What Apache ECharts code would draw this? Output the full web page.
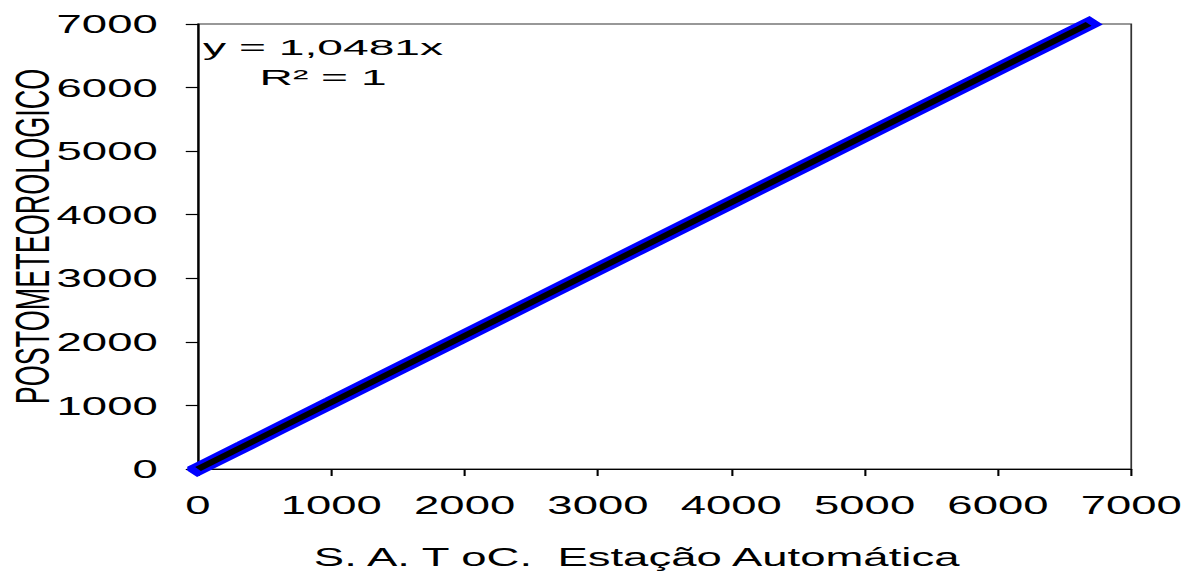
<!DOCTYPE html>
<html>
<head>
<meta charset="utf-8">
<style>
  html, body { margin: 0; padding: 0; background: #fff; overflow: hidden; }
  /* the chart is laid out narrow and stretched horizontally */
  #wrap { width: 1189px; height: 571px; overflow: hidden; }
  #chart { width: 679.43px; height: 571px; transform: scaleX(1.75); transform-origin: 0 0; }
</style>
<script src="https://cdn.jsdelivr.net/npm/echarts@6/dist/echarts.min.js"></script>
</head>
<body>
<div id="wrap"><div id="chart"></div></div>
<script>
// Accumulated degree-days: automatic station (x) vs. meteorological post (y)
const estacaoAutomatica = [0, 120, 340, 600, 1000, 1450, 1950, 2600, 3300, 3950, 4550, 5200, 5850, 6400, 6680];
const postoMeteorologico = [0, 126, 356, 629, 1048, 1520, 2044, 2725, 3459, 4140, 4769, 5450, 6131, 6708, 7000];
const tickValues = [0, 1000, 2000, 3000, 4000, 5000, 6000, 7000];
const slope = 1.0481;
const r2 = 1;

const FONT = "'Liberation Sans', Arial, sans-serif";

const points = estacaoAutomatica.map((x, i) => [x, postoMeteorologico[i]]);
const xMax = Math.max(...estacaoAutomatica);
const trend = [[0, 0], [xMax, slope * xMax]];

const chart = echarts.init(document.getElementById('chart'), null, { renderer: 'svg' });

const axisCommon = {
  type: 'value',
  min: tickValues[0],
  max: tickValues[tickValues.length - 1],
  interval: tickValues[1] - tickValues[0],
  axisLine: { show: true, lineStyle: { color: '#000', width: 1.2 } },
  axisTick: { show: true, length: 7, lineStyle: { color: '#000', width: 1.2 } },
  splitLine: { show: false },
  nameLocation: 'middle',
  nameMoveOverlap: false
};
const plainNumber = v => String(v);

chart.setOption({
  animation: false,
  backgroundColor: '#fff',
  grid: {
    left: 113.14, right: 32.57, top: 24, bottom: 102,
    containLabel: false,
    outerBoundsMode: 'none',
    show: true, borderColor: '#333', borderWidth: 1
  },
  xAxis: Object.assign({}, axisCommon, {
    name: 'S. A. T oC.  Estação Automática',
    nameGap: 75,
    nameTextStyle: { fontFamily: FONT, fontSize: 26, color: '#000', padding: [0, 32, 0, 0] },
    axisLabel: { margin: 23, fontFamily: FONT, fontSize: 26, color: '#000', formatter: plainNumber }
  }),
  yAxis: Object.assign({}, axisCommon, {
    name: 'POSTOMETEOROLOGICO',
    nameGap: 81,
    nameRotate: 90,
    nameTextStyle: { fontFamily: FONT, fontSize: 27, color: '#000', padding: [0, 0, 0, 20] },
    axisLabel: { margin: 23, fontFamily: FONT, fontSize: 26, color: '#000', formatter: plainNumber }
  }),
  graphic: [{
    type: 'text',
    x: 184.6,
    y: 32,
    scaleX: 1.2,
    z: 100,
    style: {
      text: 'y = ' + String(slope).replace('.', ',') + 'x\nR² = ' + r2,
      font: '22px ' + FONT,
      fill: '#000',
      align: 'center',
      verticalAlign: 'top',
      lineHeight: 30
    }
  }],
  series: [
    {
      type: 'line',
      data: points,
      symbol: 'none',
      clip: false,
      lineStyle: { color: '#0000ff', width: 11.5, cap: 'square' },
      z: 2
    },
    {
      type: 'line',
      data: trend,
      symbol: 'none',
      clip: false,
      lineStyle: { color: '#000', width: 5 },
      z: 3
    }
  ]
});
</script>
</body>
</html>
